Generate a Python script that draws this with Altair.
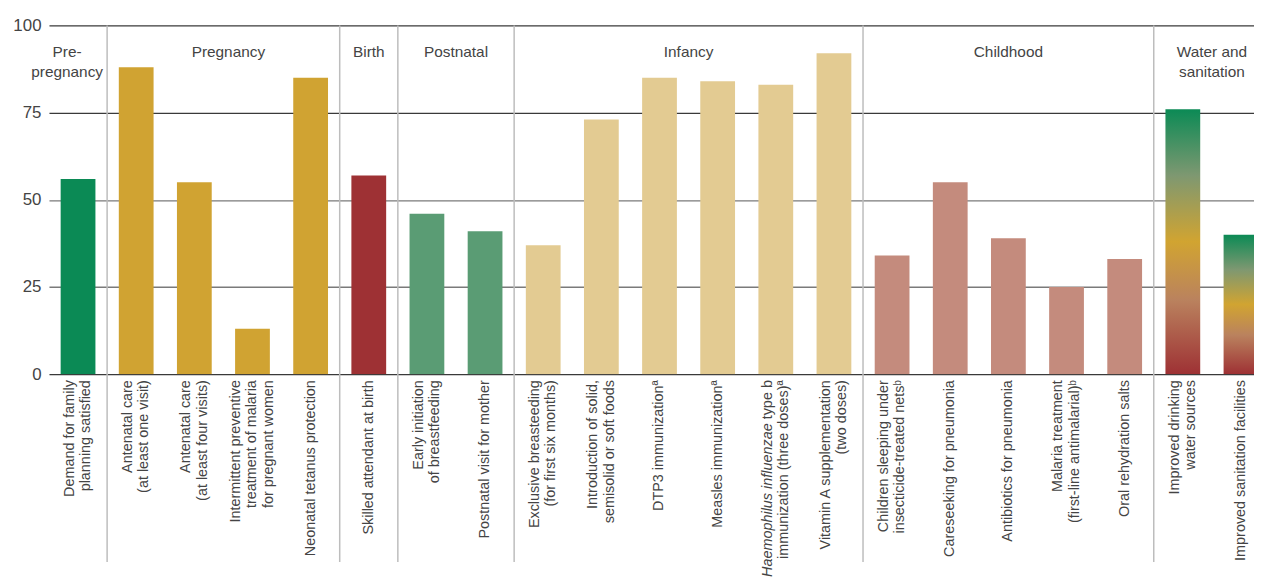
import altair as alt
import pandas as pd

FONT = "Liberation Sans"
TEXT_COLOR = "#444444"

indicators = [
    "Demand for family\nplanning satisfied",
    "Antenatal care\n(at least one visit)",
    "Antenatal care\n(at least four visits)",
    "Intermittent preventive\ntreatment of malaria\nfor pregnant women",
    "Neonatal tetanus protection",
    "Skilled attendant at birth",
    "Early initiation\nof breastfeeding",
    "Postnatal visit for mother",
    "Exclusive breasteeding\n(for first six months)",
    "Introduction of solid,\nsemisolid or soft foods",
    "DTP3 immunization\u00aa",
    "Measles immunization\u00aa",
    "Haemophilus influenzae type b\nimmunization (three doses)\u00aa",
    "Vitamin A supplementation\n(two doses)",
    "Children sleeping under\ninsecticide-treated nets\u1d47",
    "Careseeking for pneumonia",
    "Antibiotics for pneumonia",
    "Malaria treatment\n(first-line antimalarial)\u1d47",
    "Oral rehydration salts",
    "Improved drinking\nwater sources",
    "Improved sanitation facilities",
]

groups = [
    "Pre-\npregnancy",
    "Pregnancy", "Pregnancy", "Pregnancy", "Pregnancy",
    "Birth",
    "Postnatal", "Postnatal",
    "Infancy", "Infancy", "Infancy", "Infancy", "Infancy", "Infancy",
    "Childhood", "Childhood", "Childhood", "Childhood", "Childhood",
    "Water and\nsanitation", "Water and\nsanitation",
]

values = [56, 88, 55, 13, 85, 57, 46, 41, 37, 73, 85, 84, 83, 92, 34, 55, 39, 25, 33, 76, 40]

group_names = ["Pre-\npregnancy", "Pregnancy", "Birth", "Postnatal", "Infancy",
               "Childhood", "Water and\nsanitation"]
group_colors = ["#0B8A55", "#D0A332", "#9E3134", "#5A9C74", "#E3CB92", "#C48B7D", "#0B8A55"]

gradient_colors = ["#0B8A55", "#7E9871", "#D1A431", "#BA825E", "#9E3134"]
gradient_offsets = [0.0, 0.25, 0.5, 0.72, 1.0]

y_ticks = [0, 25, 50, 75, 100]

# Hib label: first line mixes italic and roman text
hib_italic = "Haemophilus influenzae"
hib_roman = "type b"
hib_line2 = "immunization (three doses)\u00aa"
HIB = 12
GRADIENT_GROUP = "Water and\nsanitation"

LINE_H = 16.5

df = pd.DataFrame({
    "idx": list(range(len(indicators))),
    "indicator": indicators,
    "group": groups,
    "value": values,
})

xscale = alt.Scale(domain=[-0.5, 20.224], nice=False, zero=False)
yscale = alt.Scale(domain=[0, 100], nice=False)

base = alt.Chart(df)

grid_color = {"condition": {"test": "datum.value >= 75 || datum.value == 0", "value": "#3a3a3a"},
              "value": "#7a7a7a"}

yaxis = alt.Axis(values=y_ticks, grid=True, ticks=False, domain=False, title=None,
                 labelFont=FONT, labelFontSize=17, labelColor=TEXT_COLOR, labelPadding=8,
                 gridColor=grid_color, gridWidth=1.3)

separators = (
    base.transform_aggregate(last="max(idx)", groupby=["group"])
    .transform_calculate(b="datum.last + 0.5")
    .transform_filter("datum.b < 20")
    .mark_rule(color="#bdbdbd", strokeWidth=1.5)
    .encode(x=alt.X("b:Q", scale=xscale, axis=None), y=alt.value(0), y2=alt.value(540))
)

bars = (
    base.transform_filter(alt.datum.group != GRADIENT_GROUP)
    .transform_calculate(x0="datum.idx - 0.299", x1="datum.idx + 0.299")
    .mark_rect(clip=True)
    .encode(
        x=alt.X("x0:Q", scale=xscale, axis=None),
        x2="x1:Q",
        y=alt.Y("value:Q", scale=yscale, axis=yaxis),
        y2=alt.datum(0),
        color=alt.Color("group:N", scale=alt.Scale(domain=group_names, range=group_colors), legend=None),
    )
)

gradient = alt.Gradient(
    gradient="linear",
    stops=[alt.GradientStop(color=c, offset=o) for c, o in zip(gradient_colors, gradient_offsets)],
    x1=0, x2=0, y1=0, y2=1,
)

grad_bars = (
    base.transform_filter(alt.datum.group == GRADIENT_GROUP)
    .transform_calculate(x0="datum.idx - 0.299", x1="datum.idx + 0.299")
    .mark_rect(clip=True, color=gradient)
    .encode(
        x=alt.X("x0:Q", scale=xscale, axis=None),
        x2="x1:Q",
        y=alt.Y("value:Q", scale=yscale),
        y2=alt.datum(0),
    )
)

label_style = dict(angle=270, align="right", baseline="middle", font=FONT, fontSize=14.5,
                   color=TEXT_COLOR, lineBreak="\n", lineHeight=LINE_H)

label_base = (
    base.transform_filter(f"datum.idx != {HIB}")
    .transform_calculate(nlines="length(split(datum.indicator, '\\n'))")
)

label_layers = []
for n in (1, 2, 3):
    label_layers.append(
        label_base.transform_filter(f"datum.nlines == {n}")
        .mark_text(dy=-(n - 1) * LINE_H / 2, **label_style)
        .encode(x=alt.X("idx:Q", scale=xscale, axis=None), y=alt.value(357), text="indicator:N")
    )

hib = base.transform_filter(f"datum.idx == {HIB}")
hib_a = hib.mark_text(dy=-LINE_H / 2, **label_style).encode(
    x=alt.X("idx:Q", scale=xscale, axis=None), y=alt.value(357), text=alt.value(hib_roman))
hib_b = hib.mark_text(dy=-LINE_H / 2, dx=-43.5, fontStyle="italic", **label_style).encode(
    x=alt.X("idx:Q", scale=xscale, axis=None), y=alt.value(357), text=alt.value(hib_italic))
hib_c = hib.mark_text(dy=LINE_H / 2, **label_style).encode(
    x=alt.X("idx:Q", scale=xscale, axis=None), y=alt.value(357), text=alt.value(hib_line2))

group_style = dict(font=FONT, fontSize=15.5, color=TEXT_COLOR, baseline="alphabetic", align="center",
                   lineBreak="\n", lineHeight=20)
group_base = base.transform_aggregate(pos="mean(idx)", groupby=["group"])
# small horizontal nudges of the first two group headings, as in the original layout
group_nudge = {"Pre-\npregnancy": -11, "Pregnancy": 5}

group_layers = []
for g, nudge in group_nudge.items():
    group_layers.append(
        group_base.transform_filter(alt.datum.group == g)
        .mark_text(dx=nudge, **group_style)
        .encode(x=alt.X("pos:Q", scale=xscale, axis=None), y=alt.value(32), text="group:N")
    )
group_layers.append(
    group_base.transform_filter(~alt.FieldOneOfPredicate(field="group", oneOf=list(group_nudge)))
    .mark_text(**group_style)
    .encode(x=alt.X("pos:Q", scale=xscale, axis=None), y=alt.value(32), text="group:N")
)

chart = (
    alt.layer(separators, bars, grad_bars, *label_layers, hib_a, hib_b, hib_c, *group_layers)
    .properties(
        width=1213, height=351,
        autosize=alt.AutoSizeParams(type="none"),
        padding={"left": 41.24, "top": 15.7, "right": 0, "bottom": 203},
    )
    .configure_view(strokeWidth=0)
)

chart.save("out.html", embed_options={"renderer": "svg", "actions": False})
